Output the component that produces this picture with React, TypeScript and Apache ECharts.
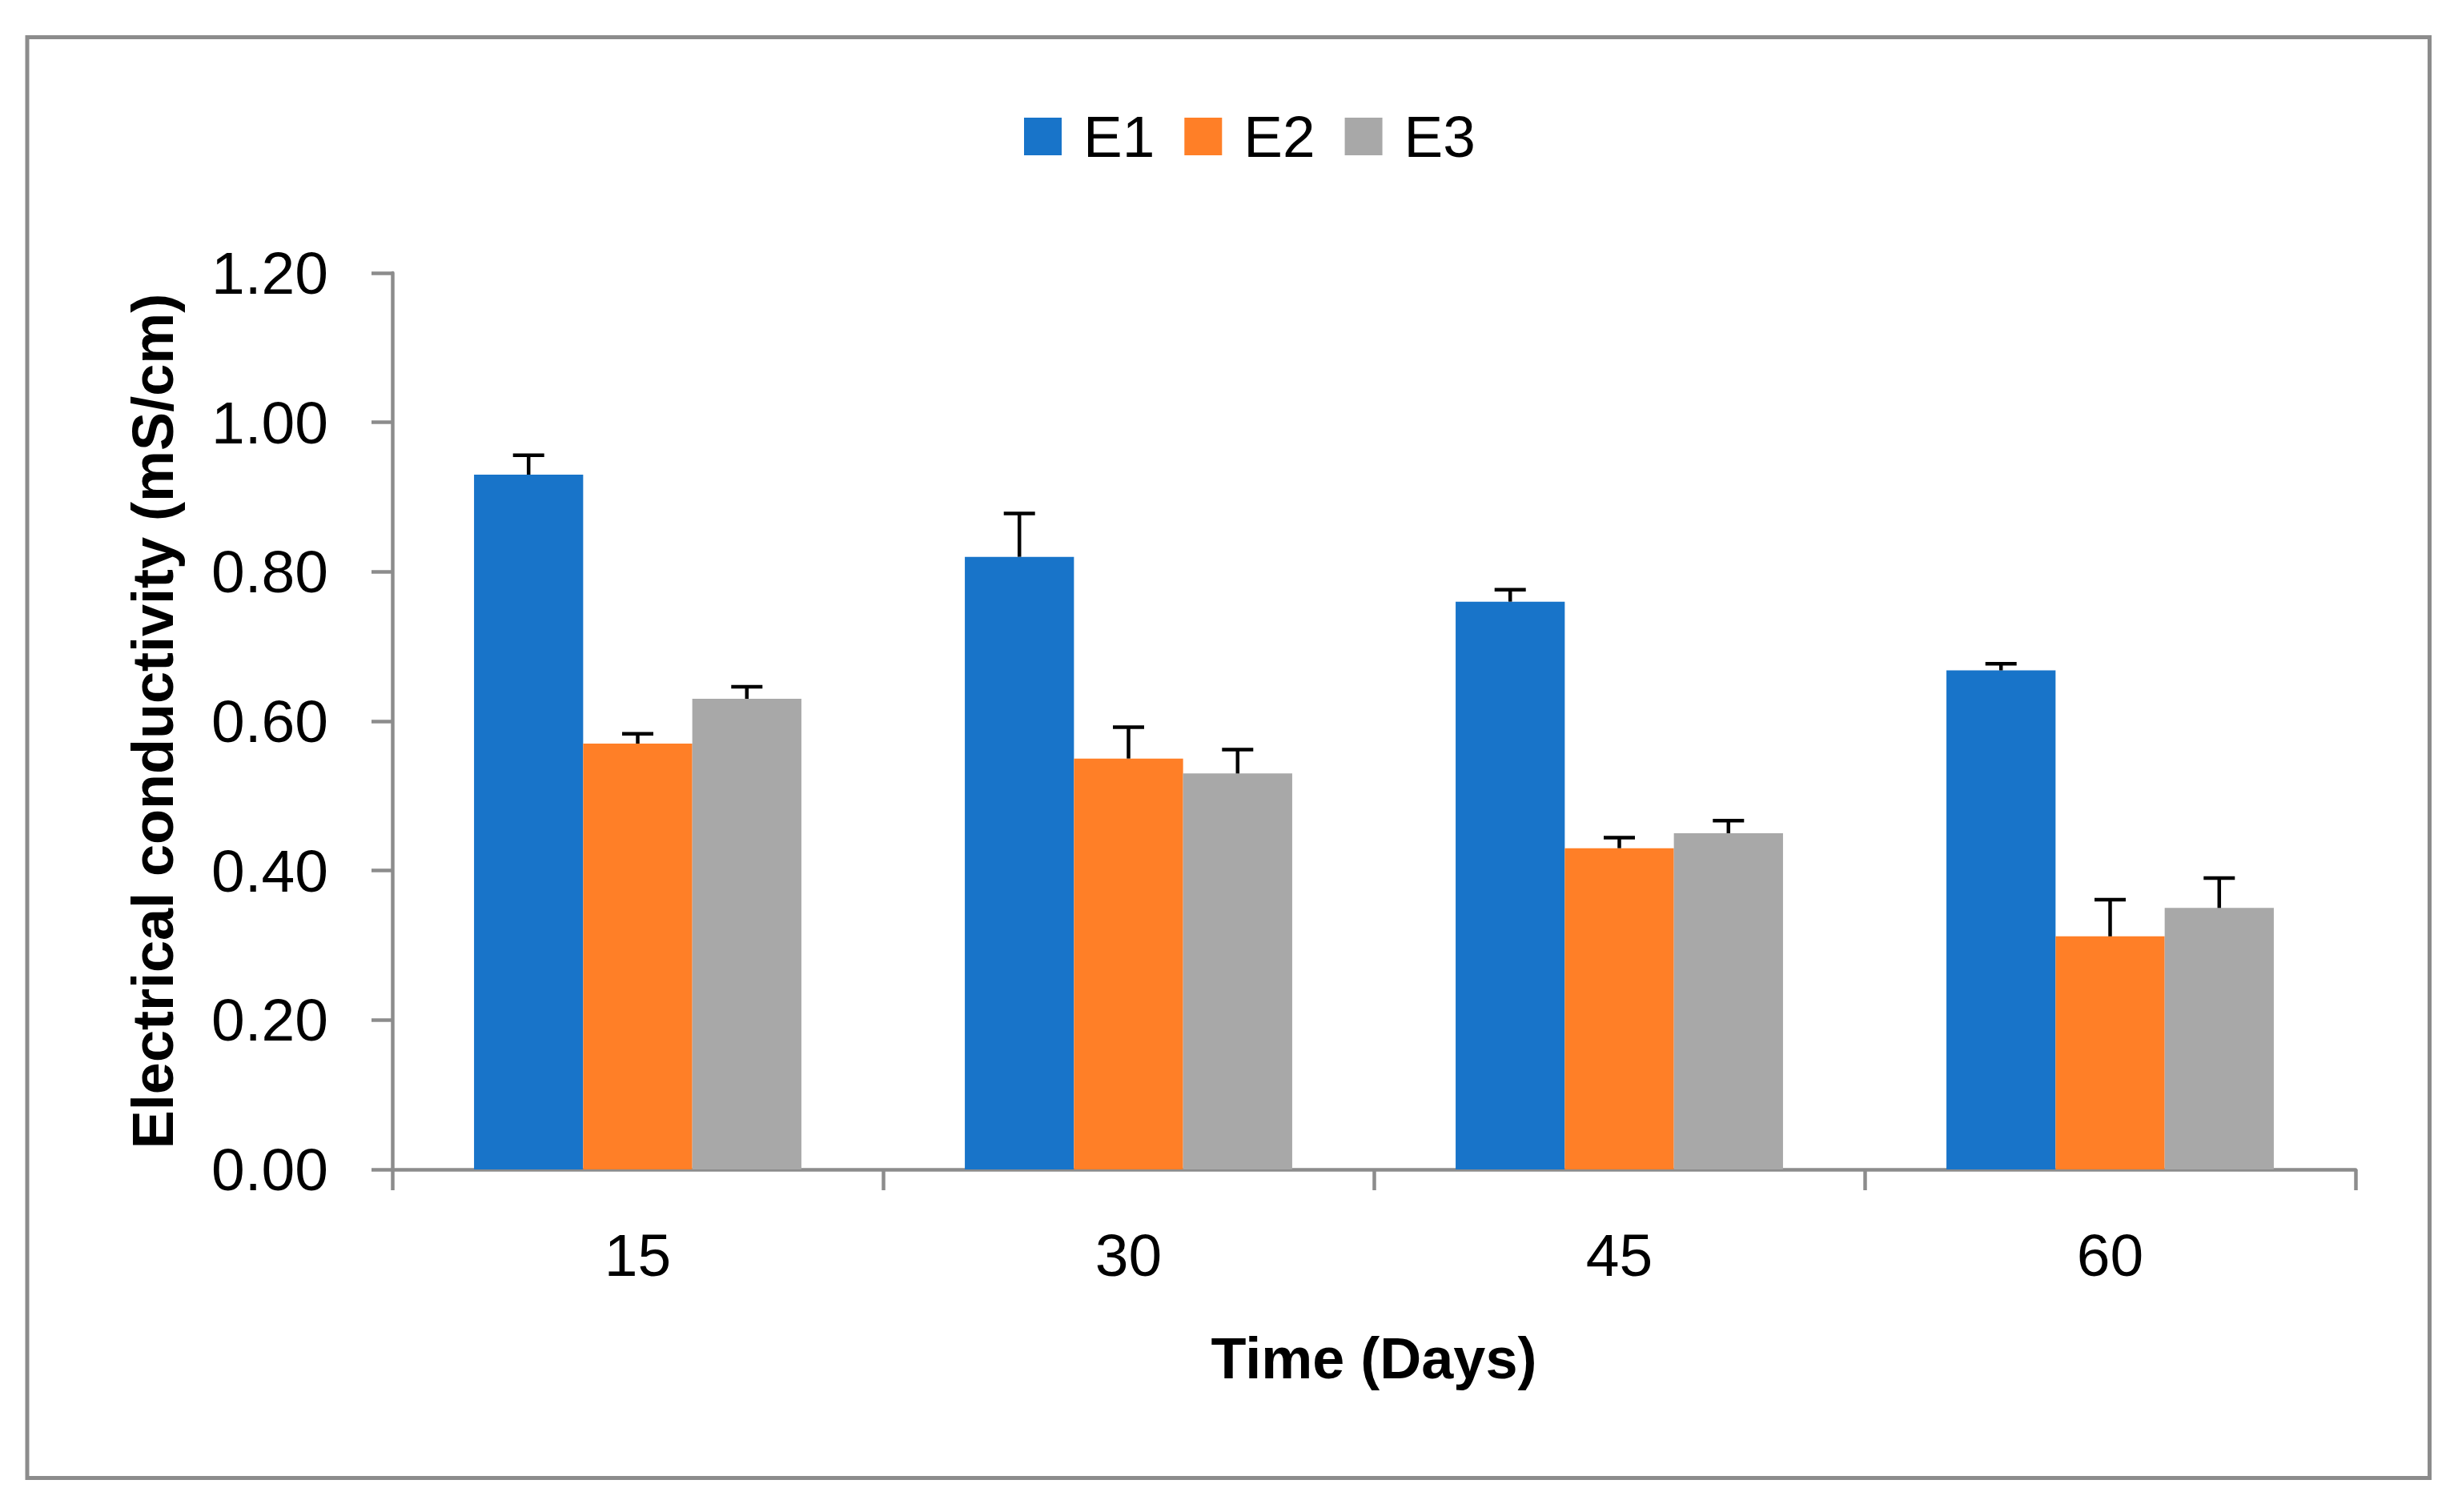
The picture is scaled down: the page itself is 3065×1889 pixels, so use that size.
import React, { useEffect, useRef } from "react";
import * as echarts from "echarts";

const categories = ["15", "30", "45", "60"];
const seriesNames = ["E1", "E2", "E3"];
const e1Values = [0.93, 0.82, 0.76, 0.668];
const e2Values = [0.57, 0.55, 0.43, 0.312];
const e3Values = [0.63, 0.53, 0.45, 0.35];
const e1Upper = [0.956, 0.878, 0.776, 0.677];
const e2Upper = [0.583, 0.592, 0.444, 0.361];
const e3Upper = [0.646, 0.562, 0.467, 0.39];
const yTicks = { min: 0, max: 1.2, interval: 0.2 };
const colors = ["#1874C9", "#FF7F27", "#A8A8A8"];

const FONT = "Liberation Sans";
const CAT_GAP = 0.333;

function errorSeries(k: number, means: number[], uppers: number[]) {
  return {
    type: "custom",
    name: seriesNames[k] + " error",
    z: 10,
    silent: true,
    data: means.map((m, i) => [i, m, uppers[i]]),
    encode: { x: 0, y: 2 },
    renderItem: (_params: any, api: any) => {
      const i = api.value(0);
      const mean = api.value(1);
      const up = api.value(2);
      const band = api.size([1, 0])[0];
      const barW = (band * (1 - CAT_GAP)) / 3;
      const p0 = api.coord([i, mean]);
      const p1 = api.coord([i, up]);
      const x = p0[0] + (k - 1) * barW;
      const half = 19.5;
      const st = { stroke: "#000000", lineWidth: 4.5 };
      return {
        type: "group",
        children: [
          { type: "line", shape: { x1: x, y1: p0[1], x2: x, y2: p1[1] }, style: st },
          { type: "line", shape: { x1: x - half, y1: p1[1], x2: x + half, y2: p1[1] }, style: st },
        ],
      };
    },
  };
}

export default function App() {
  const ref = useRef<HTMLDivElement>(null);
  useEffect(() => {
    if (!ref.current) return;
    const chart = echarts.init(ref.current, undefined, { renderer: "svg" });
    const axisLine = { show: true, lineStyle: { color: "#8C8C8C", width: 4.5 } };
    chart.setOption({
      animation: false,
      backgroundColor: "#FFFFFF",
      textStyle: { fontFamily: FONT },
      graphic: [
        {
          type: "rect",
          shape: { x: 34, y: 46.5, width: 3000.5, height: 1800 },
          style: { fill: "none", stroke: "#8C8C8C", lineWidth: 5 },
          silent: true,
        },
      ],
      legend: {
        data: seriesNames,
        left: 1274,
        top: 129,
        itemWidth: 47,
        itemHeight: 47,
        itemGap: 37,
        icon: "rect",
        textStyle: { fontFamily: FONT, fontSize: 73, color: "#000000", padding: [0, 0, 0, 22] },
      },
      grid: { left: 490, right: 123, top: 341, bottom: 428, containLabel: false },
      xAxis: {
        type: "category",
        data: categories,
        name: "Time (Days)",
        nameLocation: "middle",
        nameGap: 200,
        nameTextStyle: { fontFamily: FONT, fontSize: 72, fontWeight: "bold", color: "#000000" },
        axisLine,
        axisTick: { show: true, length: 26, alignWithLabel: false, lineStyle: { color: "#8C8C8C", width: 4.5 } },
        axisLabel: { fontFamily: FONT, fontSize: 75, color: "#000000", margin: 69 },
        splitLine: { show: false },
      },
      yAxis: {
        type: "value",
        min: yTicks.min,
        max: yTicks.max,
        interval: yTicks.interval,
        name: "Electrical conductivity (mS/cm)",
        nameLocation: "middle",
        nameGap: 263,
        nameRotate: 90,
        nameTextStyle: { fontFamily: FONT, fontSize: 72, fontWeight: "bold", color: "#000000" },
        axisLine,
        axisTick: { show: true, length: 26, lineStyle: { color: "#8C8C8C", width: 4.5 } },
        axisLabel: {
          fontFamily: FONT,
          fontSize: 75,
          color: "#000000",
          margin: 80,
          formatter: (v: number) => v.toFixed(2),
        },
        splitLine: { show: false },
      },
      series: [
        { type: "bar", name: "E1", data: e1Values, itemStyle: { color: colors[0] }, barGap: "0%", barCategoryGap: "33.3%" },
        { type: "bar", name: "E2", data: e2Values, itemStyle: { color: colors[1] }, barGap: "0%", barCategoryGap: "33.3%" },
        { type: "bar", name: "E3", data: e3Values, itemStyle: { color: colors[2] }, barGap: "0%", barCategoryGap: "33.3%" },
        errorSeries(0, e1Values, e1Upper),
        errorSeries(1, e2Values, e2Upper),
        errorSeries(2, e3Values, e3Upper),
      ],
    });
    return () => chart.dispose();
  }, []);
  return (
    <div
      ref={ref}
      style={{ position: "fixed", left: 0, top: 0, width: 3065, height: 1889, background: "#FFFFFF" }}
    />
  );
}
